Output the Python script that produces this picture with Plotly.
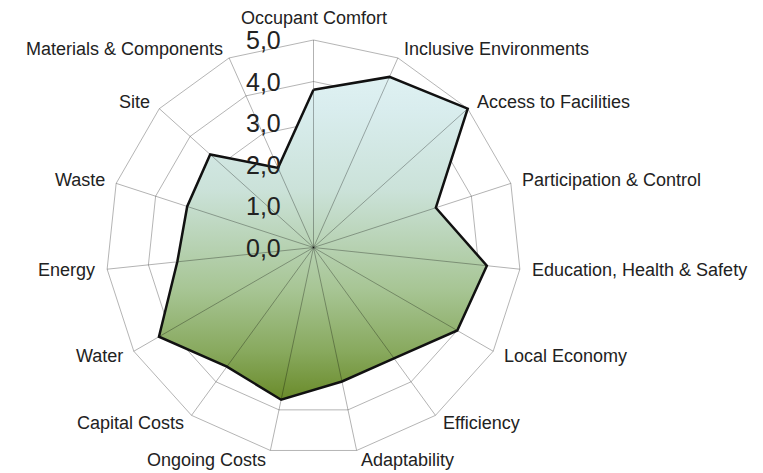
import numpy as np
import plotly.graph_objects as go

# Radar categories, clockwise from the top
categories = [
    "Occupant Comfort", "Inclusive Environments", "Access to Facilities",
    "Participation & Control", "Education, Health & Safety", "Local Economy",
    "Efficiency", "Adaptability", "Ongoing Costs", "Capital Costs",
    "Water", "Energy", "Waste", "Site", "Materials & Components",
]
scores = [3.8, 4.5, 5.0, 3.1, 4.2, 4.0, 3.3, 3.3, 3.75, 3.55, 4.3, 3.3, 3.2, 3.35, 2.1]

# Radial scale
ring_levels = [1, 2, 3, 4, 5]
tick_values = [0, 1, 2, 3, 4, 5]
tick_labels = ["0,0", "1,0", "2,0", "3,0", "4,0", "5,0"]
r_max = 5

# Canvas geometry
W, H = 763, 473
CX, CY = 313.5, 247.5      # pixel position of the radar centre
PX_PER_UNIT = 41.5         # pixels per score unit

n = len(categories)
theta = np.deg2rad(np.arange(n) * 360.0 / n)
sx, cy = np.sin(theta), np.cos(theta)


def closed(xs, ys):
    return list(xs) + [xs[0]], list(ys) + [ys[0]]


fig = go.Figure()

# Polygon grid rings (beneath the filled area)
gx, gy = [], []
for lv in ring_levels:
    xs, ys = closed(lv * sx, lv * cy)
    gx += xs + [None]
    gy += ys + [None]
fig.add_trace(go.Scatter(x=gx, y=gy, mode="lines",
                         line=dict(color="#b5b5b5", width=1),
                         hoverinfo="skip"))

# Filled score polygon with a vertical gradient
px_, py_ = closed(np.array(scores) * sx, np.array(scores) * cy)
fig.add_trace(go.Scatter(
    x=px_, y=py_, mode="lines", fill="toself",
    line=dict(width=0, color="rgba(0,0,0,0)"),
    fillgradient=dict(
        type="vertical",
        start=min(py_), stop=max(py_),
        colorscale=[
            [0.00, "#6a8b2a"],
            [0.15, "#88a95e"],
            [0.34, "#a7c594"],
            [0.65, "#cbe2d9"],
            [0.90, "#d9edee"],
            [1.00, "#dff1f2"],
        ],
    ),
    hoverinfo="skip",
))

# Spokes drawn over the fill
spx, spy = [], []
for i in range(n):
    spx += [0, r_max * sx[i], None]
    spy += [0, r_max * cy[i], None]
fig.add_trace(go.Scatter(x=spx, y=spy, mode="lines",
                         line=dict(color="rgba(0,0,0,0.30)", width=1),
                         hoverinfo="skip"))

# Score outline
fig.add_trace(go.Scatter(x=px_, y=py_, mode="lines",
                         line=dict(color="#111111", width=2.5),
                         hoverinfo="skip"))

annotations = []
# Category labels just outside the outer ring
for i, name in enumerate(categories):
    s, c = sx[i], cy[i]
    if s > 0.05:
        xa = "left"
    elif s < -0.05:
        xa = "right"
    else:
        xa = "center"
    ya = "bottom" if c > 0.99 else "middle"
    annotations.append(dict(
        x=r_max * s, y=r_max * c, xref="x", yref="y",
        text=name, showarrow=False,
        xanchor=xa, yanchor=ya,
        xshift=10 * s, yshift=10 * c,
        font=dict(family="Liberation Sans, Arial, sans-serif", size=18, color="#222222"),
    ))

# Radial tick labels along the vertical axis
for v, lab in zip(tick_values, tick_labels):
    annotations.append(dict(
        x=0, y=v, xref="x", yref="y",
        text=lab, showarrow=False,
        xanchor="right", yanchor="middle", xshift=-31,
        font=dict(family="Liberation Sans, Arial, sans-serif", size=25, color="#222222"),
    ))

fig.update_layout(
    width=W, height=H, autosize=False,
    margin=dict(l=0, r=0, t=0, b=0),
    paper_bgcolor="white", plot_bgcolor="white",
    showlegend=False,
    annotations=annotations,
    xaxis=dict(range=[-CX / PX_PER_UNIT, (W - CX) / PX_PER_UNIT],
               visible=False, fixedrange=True),
    yaxis=dict(range=[-(H - CY) / PX_PER_UNIT, CY / PX_PER_UNIT],
               visible=False, fixedrange=True),
)

fig.write_html("out.html", config={"displayModeBar": False})
